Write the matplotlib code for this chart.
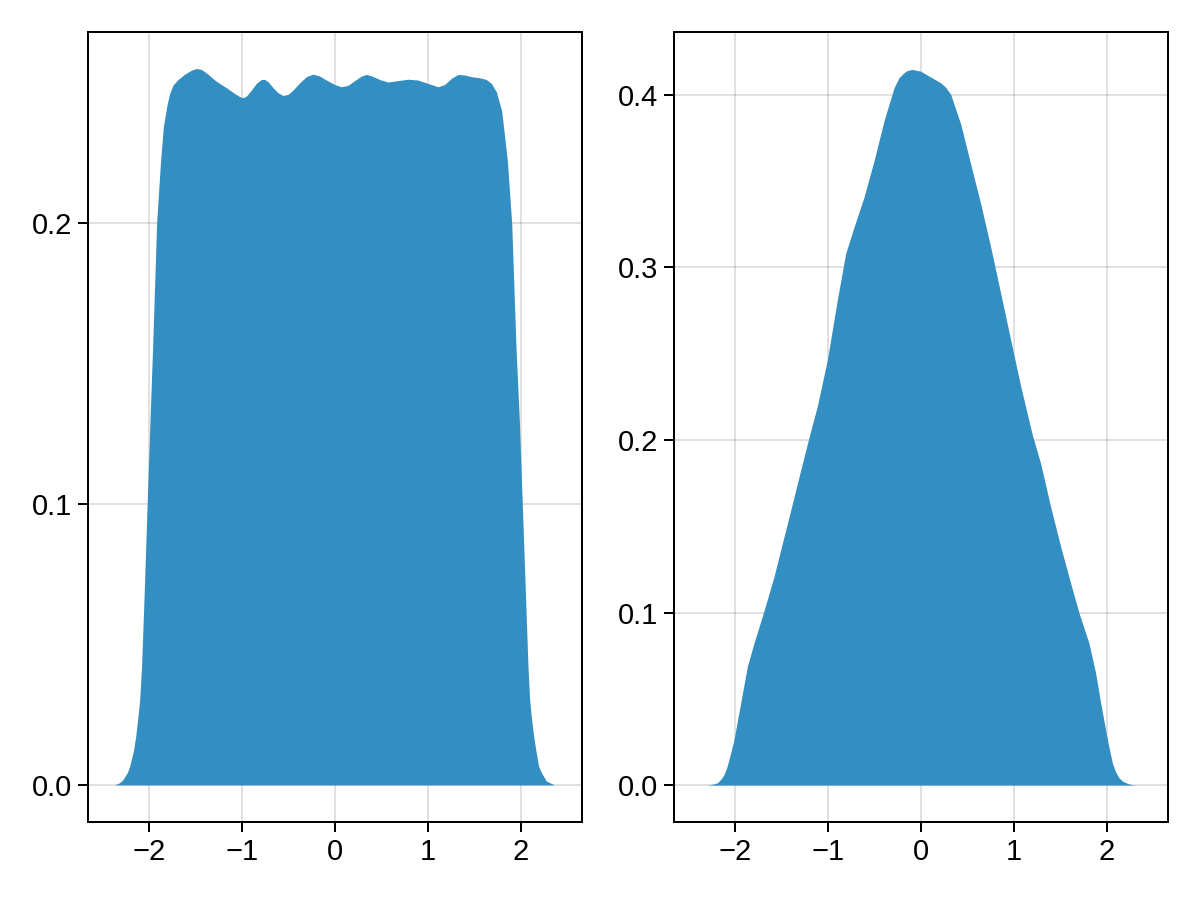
import matplotlib
matplotlib.use("Agg")
import matplotlib.pyplot as plt

plt.rcParams["font.family"] = ["Liberation Sans", "DejaVu Sans"]

# ── data (x, density) ────────────────────────────────────────────────────────
left_x = [-2.37, -2.315, -2.28, -2.233, -2.208, -2.165, -2.143, -2.118, -2.10,
          -2.08, -2.054, -2.02, -1.989,
          -1.961, -1.918, -1.875, -1.846, -1.803, -1.778, -1.742, -1.688,
          -1.616, -1.545, -1.491, -1.437, -1.366, -1.294, -1.222, -1.151,
          -1.079, -1.025, -0.989, -0.953, -0.900, -0.846, -0.792, -0.756,
          -0.720, -0.667, -0.613, -0.559, -0.505, -0.452, -0.380, -0.308,
          -0.237, -0.165, -0.093, -0.004, 0.068, 0.140, 0.211, 0.283, 0.337,
          0.391, 0.480, 0.570, 0.677, 0.785, 0.892, 1.0, 1.108, 1.179, 1.251,
          1.323, 1.394, 1.466, 1.556, 1.627, 1.681, 1.735, 1.792, 1.853, 1.90,
          1.946, 1.982, 2.014, 2.05, 2.075, 2.093, 2.11, 2.136, 2.158, 2.19,
          2.219, 2.272, 2.308, 2.36]
left_y = [0.0, 0.0008, 0.0019, 0.0044, 0.0066, 0.0126, 0.0173, 0.0245, 0.0304,
          0.0423, 0.066, 0.100, 0.130,
          0.156, 0.200, 0.2224, 0.2343, 0.2426, 0.2461, 0.2491, 0.2511,
          0.2530, 0.2544, 0.2550, 0.2547, 0.2530, 0.2509, 0.2493, 0.2478,
          0.2461, 0.2450, 0.2446, 0.2452, 0.2473, 0.2497, 0.2511, 0.2511,
          0.2503, 0.2482, 0.2464, 0.2454, 0.2458, 0.2473, 0.2499, 0.2521,
          0.2530, 0.2523, 0.2509, 0.2493, 0.2485, 0.2490, 0.2507, 0.2523,
          0.2529, 0.2524, 0.2511, 0.2502, 0.2507, 0.2512, 0.2509, 0.2497,
          0.2485, 0.2493, 0.2515, 0.2529, 0.2527, 0.2521, 0.2517, 0.2511,
          0.2497, 0.2467, 0.2400, 0.2224, 0.200, 0.156, 0.130, 0.100, 0.066,
          0.0423, 0.0304, 0.0245, 0.0173, 0.0126, 0.0066,
          0.0044, 0.0014, 0.0008, 0.0]

right_x = [-2.297, -2.25, -2.19, -2.15, -2.118, -2.09, -2.065, -2.04, -2.011,
           -1.939, -1.867, -1.796,
           -1.695, -1.581, -1.491, -1.401, -1.294, -1.20, -1.115, -1.007,
           -0.90, -0.81, -0.72, -0.613, -0.505, -0.398, -0.29, -0.237, -0.183,
           -0.147, -0.093, -0.004, 0.104, 0.211, 0.265, 0.319, 0.427, 0.534,
           0.642, 0.749, 0.857, 0.964, 1.072, 1.197, 1.287, 1.394, 1.502,
           1.609, 1.699, 1.806, 1.878, 1.932, 2.004, 2.057, 2.09, 2.129, 2.17,
           2.219, 2.26, 2.308]
right_y = [0.0, 0.0004, 0.0013, 0.0035, 0.0062, 0.0100, 0.0148, 0.0200, 0.0264,
           0.0476, 0.0688, 0.0823,
           0.0998, 0.1208, 0.1401, 0.1593, 0.1825, 0.2025, 0.2196, 0.2465,
           0.2812, 0.3081, 0.3235, 0.3408, 0.3619, 0.3850, 0.4042, 0.4100,
           0.4129, 0.4142, 0.4148, 0.4138, 0.4104, 0.4071, 0.4045, 0.4004,
           0.3831, 0.3600, 0.3369, 0.3119, 0.2850, 0.2581, 0.2312, 0.2030,
           0.1863, 0.1613, 0.1382, 0.1170, 0.0998, 0.0823, 0.0649, 0.0476,
           0.0264, 0.0129, 0.0080, 0.0042, 0.0022, 0.0010, 0.0003, 0.0]

x_ticks = [-2, -1, 0, 1, 2]
left_yticks = [0.0, 0.1, 0.2]
right_yticks = [0.0, 0.1, 0.2, 0.3, 0.4]

FILL = "#338EC1"   # Makie blue at 0.8 alpha over white

fig = plt.figure(figsize=(12, 9), dpi=100)
ax1 = fig.add_axes([88 / 1200, 78 / 900, 494 / 1200, 790 / 900])
ax2 = fig.add_axes([674 / 1200, 78 / 900, 494 / 1200, 790 / 900])


def style(ax, yticks, ylim):
    ax.set_xlim(-2.656, 2.656)
    ax.set_ylim(*ylim)
    ax.set_xticks(x_ticks)
    ax.set_yticks(yticks)
    ax.set_yticklabels([f"{v:.1f}" for v in yticks])
    ax.grid(True, color="black", alpha=0.12, linewidth=1.44)
    ax.set_axisbelow(True)
    for sp in ax.spines.values():
        sp.set_linewidth(1.44)
    ax.tick_params(direction="out", length=7.2, width=1.44,
                   labelsize=21, pad=4)


ax1.fill_between(left_x, 0, left_y, color=FILL, linewidth=0, zorder=2)
style(ax1, left_yticks, (-0.0132, 0.268))

ax2.fill_between(right_x, 0, right_y, color=FILL, linewidth=0, zorder=2)
style(ax2, right_yticks, (-0.0214, 0.4365))

fig.savefig("out.png", dpi=100, facecolor="white")
